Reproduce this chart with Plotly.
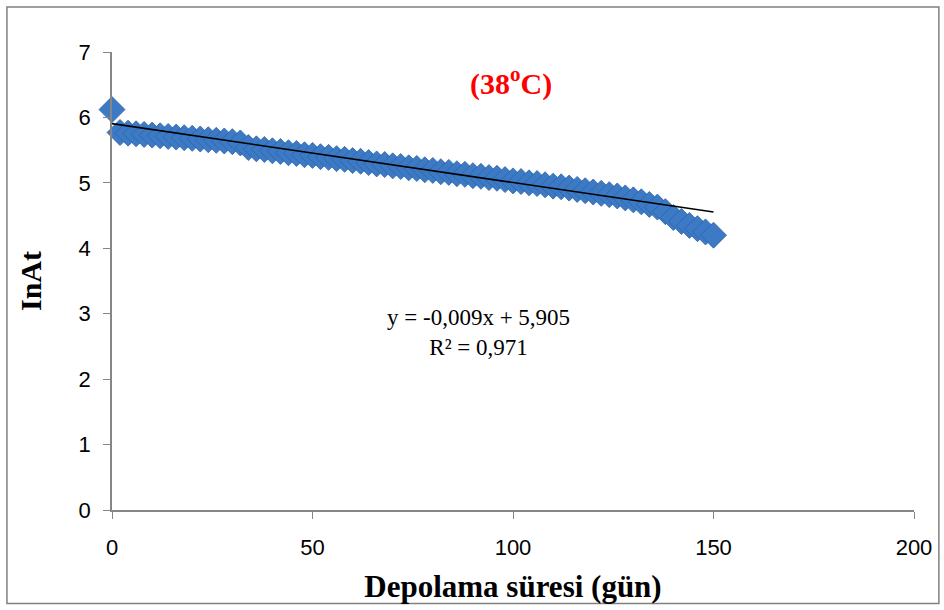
import plotly.graph_objects as go

days = list(range(0, 151, 2))
ln_at = [6.12, 5.77, 5.76, 5.75, 5.74, 5.73, 5.72, 5.71, 5.70, 5.69,
         5.68, 5.67, 5.66, 5.65, 5.64, 5.63, 5.61, 5.54, 5.52, 5.51,
         5.49, 5.48, 5.46, 5.45, 5.43, 5.42, 5.40, 5.39, 5.37, 5.36,
         5.34, 5.33, 5.31, 5.29, 5.28, 5.26, 5.25, 5.23, 5.22, 5.20,
         5.19, 5.17, 5.16, 5.14, 5.13, 5.11, 5.10, 5.08, 5.07, 5.05,
         5.03, 5.02, 5.00, 4.99, 4.97, 4.95, 4.94, 4.92, 4.90, 4.88,
         4.86, 4.84, 4.82, 4.80, 4.77, 4.74, 4.71, 4.67, 4.63, 4.56,
         4.47, 4.41, 4.35, 4.30, 4.25, 4.20]

slope = -0.009
intercept = 5.905
trend_x = [0, 150]
trend_y = [slope * x + intercept for x in trend_x]

x_ticks = [0, 50, 100, 150, 200]
y_ticks = [0, 1, 2, 3, 4, 5, 6, 7]

fig = go.Figure()
fig.add_trace(go.Scatter(
    x=days, y=ln_at, mode="markers", cliponaxis=False,
    marker=dict(symbol="diamond", size=20, color="#3C7AC6",
                line=dict(color="#2F63A6", width=0.8)),
    showlegend=False, hoverinfo="x+y"))
fig.add_trace(go.Scatter(
    x=trend_x, y=trend_y, mode="lines", cliponaxis=False,
    line=dict(color="black", width=1.6), showlegend=False))

axis_common = dict(showgrid=False, zeroline=False, showline=True,
                   linecolor="#868686", linewidth=1.5, ticks="outside",
                   ticklen=7, tickcolor="#868686",
                   tickfont=dict(family="Liberation Sans", size=22, color="black"))

fig.update_xaxes(range=[0, 200], tickvals=x_ticks, **axis_common,
                 ticklabelstandoff=10,
                 title=dict(text="<b>Depolama süresi (gün)</b>",
                            font=dict(family="Liberation Serif", size=31, color="black"),
                            standoff=16))
fig.update_yaxes(range=[0, 7], tickvals=y_ticks, **axis_common,
                 ticklabelstandoff=8,
                 title=dict(text="<b>InAt</b>",
                            font=dict(family="Liberation Serif", size=30, color="black"),
                            standoff=28))

fig.add_annotation(xref="x", yref="y", x=99.5, y=6.55,
                   text="<b>(38<sup>o</sup>C)</b>", showarrow=False,
                   font=dict(family="Liberation Serif", size=30, color="#FF0000"))
fig.add_annotation(xref="x", yref="y", x=91.5, y=2.72,
                   text="y = -0,009x + 5,905<br>R² = 0,971", showarrow=False,
                   align="center",
                   font=dict(family="Liberation Serif", size=23, color="black"))

fig.add_shape(type="rect", xref="paper", yref="paper",
              x0=-0.131, x1=1.031, y0=-0.204, y1=1.098,
              line=dict(color="#808080", width=1.5))

fig.update_layout(width=944, height=610, paper_bgcolor="white", plot_bgcolor="white",
                  margin=dict(l=112, r=28, t=52, b=98))

fig.write_html("out.html")
